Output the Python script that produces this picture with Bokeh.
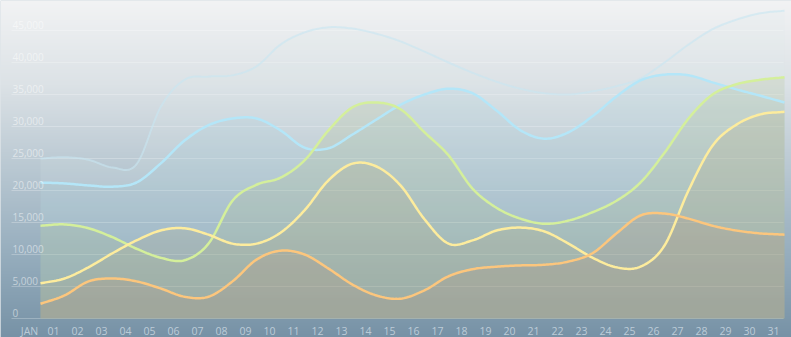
import numpy as np
from bokeh.plotting import figure
from bokeh.models import Range1d
from bokeh.embed import file_html
from bokeh.resources import INLINE
from bokeh.core.properties import value

# ---------------- data ----------------
x_labels = ["JAN"] + [f"{d:02d}" for d in range(1, 32)]
y_ticks = [0, 5000, 10000, 15000, 20000, 25000, 30000, 35000, 40000, 45000]
y_tick_labels = ["0", "5,000", "10,000", "15,000", "20,000", "25,000",
                 "30,000", "35,000", "40,000", "45,000"]

series_a = [25000, 25200, 24800, 23600, 24100, 33000, 37300, 37800, 38000, 39400,
            42800, 44700, 45500, 45300, 44500, 43300, 41700, 40000, 38400, 37000,
            35900, 35200, 35000, 35500, 36300, 37500, 40000, 42800, 45200, 46700,
            47700, 48100]
series_b = [21250, 21100, 20800, 20600, 21250, 24200, 27800, 30200, 31250, 31250,
            29400, 26700, 26600, 28750, 31100, 33400, 35000, 35900, 35200, 32500,
            29400, 28100, 29100, 31600, 34700, 37200, 38100, 38000, 36900, 35800,
            34800, 33750]
series_c = [14500, 14700, 14100, 12700, 10900, 9500, 9100, 11700, 18400, 20900,
            22000, 24700, 29400, 33000, 33750, 32700, 29100, 25500, 20300, 17300,
            15600, 14800, 15300, 16600, 18400, 21250, 25900, 31250, 35000, 36600,
            37300, 37700]
series_d = [5500, 6250, 8000, 10200, 12200, 13750, 14100, 13100, 11700, 11700,
            13400, 16900, 21600, 24200, 23750, 20800, 15500, 11700, 12200, 13750,
            14200, 13600, 11700, 9500, 8000, 8100, 11400, 20000, 27000, 30300,
            31900, 32300]
series_e = [2300, 3600, 5800, 6250, 5800, 4700, 3400, 3400, 5800, 9200,
            10600, 10000, 7800, 5300, 3600, 3100, 4400, 6600, 7700, 8100,
            8300, 8400, 8900, 10200, 13300, 16100, 16400, 15600, 14500, 13750,
            13300, 13100]

# (values, line colour, line alpha, line width, fill colour, fill alpha)
series = [
    (series_a, "#c8e6f2", 0.6, 2.0, "#dde9ee", 0.15),
    (series_b, "#b4e6f8", 1.0, 2.5, "#9cc6d6", 0.15),
    (series_c, "#d4ef9b", 1.0, 2.5, "#aebf86", 0.20),
    (series_d, "#fdec9d", 1.0, 2.5, "#b4aa82", 0.20),
    (series_e, "#fcc67d", 1.0, 2.5, "#b0927a", 0.22),
]


def smooth(xs, ys, n=14):
    """Cardinal (Catmull-Rom) spline through the data points, for drawing."""
    xs = np.asarray(xs, float)
    ys = np.asarray(ys, float)
    m = np.zeros_like(ys)
    m[1:-1] = (ys[2:] - ys[:-2]) / 2.0
    m[0] = ys[1] - ys[0]
    m[-1] = ys[-1] - ys[-2]
    outx, outy = [], []
    for i in range(len(xs) - 1):
        t = np.linspace(0, 1, n, endpoint=False)
        h00 = 2 * t**3 - 3 * t**2 + 1
        h10 = t**3 - 2 * t**2 + t
        h01 = -2 * t**3 + 3 * t**2
        h11 = t**3 - t**2
        outy.extend(h00 * ys[i] + h10 * m[i] + h01 * ys[i + 1] + h11 * m[i + 1])
        outx.extend(xs[i] + t * (xs[i + 1] - xs[i]))
    outx.append(xs[-1])
    outy.append(ys[-1])
    return np.array(outx), np.array(outy)


# ---------------- figure ----------------
W, H = 791, 337
x0, x1 = -40 / 24, (W - 40) / 24
y0, y1 = -19 / 6.4 * 1000, 318 / 6.4 * 1000

p = figure(width=W, height=H, output_backend="svg", toolbar_location=None,
           x_range=Range1d(x0, x1), y_range=Range1d(y0, y1),
           x_axis_location=None, y_axis_location=None, min_border=0)
p.grid.visible = False
p.outline_line_color = None
p.background_fill_color = "#c0ccd4"
p.border_fill_color = "#c0ccd4"

# background vertical gradient
stops = [(0.0, (0xf2, 0xf3, 0xf4)), (0.25, (0xdc, 0xe2, 0xe6)),
         (0.5, (0xb9, 0xc8, 0xd2)), (0.75, (0x97, 0xae, 0xbe)),
         (1.0, (0x77, 0x92, 0xa6))]
pos = np.array([s[0] for s in stops])
cols = np.array([s[1] for s in stops], float)
tt = np.linspace(0, 1, H)  # top -> bottom
rgb = np.stack([np.interp(tt, pos, cols[:, c]) for c in range(3)], axis=1)
img = np.empty((H, 2), dtype=np.uint32)
view = img.view(dtype=np.uint8).reshape((H, 2, 4))
for j in range(2):
    view[:, j, 0] = rgb[::-1, 0]
    view[:, j, 1] = rgb[::-1, 1]
    view[:, j, 2] = rgb[::-1, 2]
    view[:, j, 3] = 255
p.image_rgba(image=[img], x=x0, y=y0, dw=x1 - x0, dh=y1 - y0)

# grid lines
n = len(x_labels)
gx0 = -29 / 24
gx1 = (783 - 40) / 24
p.segment(x0=[gx0] * len(y_ticks), x1=[gx1] * len(y_ticks), y0=y_ticks, y1=y_ticks,
          line_color="#ffffff", line_alpha=0.25, line_width=1)

# areas + lines
xs = list(range(n))
for ys, lc, la, lw, fc, fa in series:
    sx, sy = smooth(xs, ys)
    p.varea(x=sx, y1=np.zeros_like(sy), y2=sy, fill_color=fc, fill_alpha=fa)
for ys, lc, la, lw, fc, fa in series:
    sx, sy = smooth(xs, ys)
    p.line(sx, sy, line_color=lc, line_alpha=la, line_width=lw)

# y tick labels
p.text(x=[gx0] * len(y_ticks), y=y_ticks, text=y_tick_labels,
       text_font=value("Open Sans"), text_font_size="10px", text_color="#ffffff",
       text_alpha=0.5, text_baseline="bottom", text_align="left", y_offset=-2, x_offset=1)

# x labels
p.text(x=xs, y=[0] * n, text=x_labels, text_font=value("Open Sans"),
       text_font_size="10.5px", text_color="#cfdbe4", text_alpha=0.8,
       text_align="center", text_baseline="middle", x_offset=-11, y_offset=12)

open("out.html", "w").write(file_html(p, INLINE))
